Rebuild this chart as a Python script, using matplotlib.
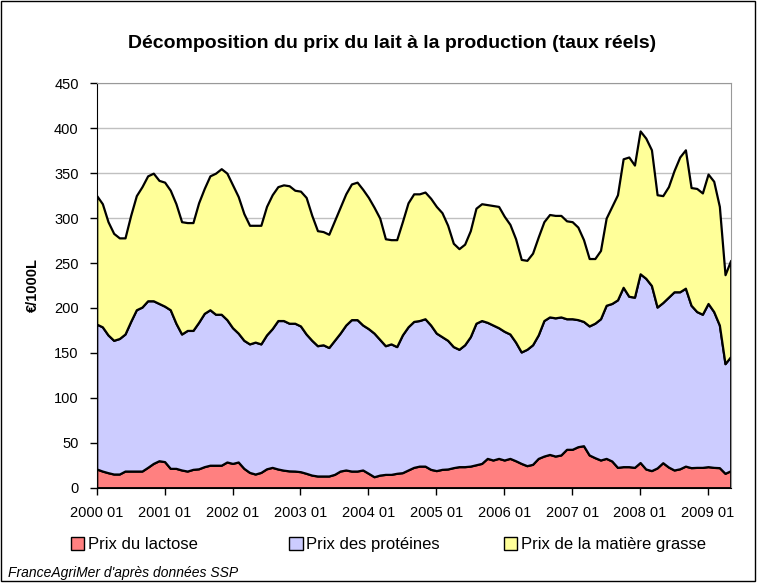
import numpy as np
import matplotlib
matplotlib.use('Agg')
import matplotlib.pyplot as plt
from matplotlib.patches import Rectangle, Patch

plt.rcParams['font.family'] = ['Liberation Sans', 'DejaVu Sans']

# monthly values, 2000 01 -> 2009 05
lactose = [20.8, 18.5, 16.7, 15.2, 15.2, 18.5, 18.5, 18.5, 18.5, 22.6, 27.0, 30.0,
           29.0, 21.5, 21.5, 19.7, 18.5, 20.4, 21.0, 23.4, 25.0, 25.0, 25.0, 28.6,
           27.0, 28.6, 21.5, 17.0, 15.2, 17.0, 21.0, 22.6, 20.8, 19.5, 18.7, 18.5,
           17.8, 16.0, 14.0, 13.0, 13.0, 13.0, 14.8, 18.5, 19.7, 18.5, 18.5, 19.7,
           16.0, 12.2, 14.0, 14.8, 14.8, 16.0, 16.7, 19.7, 22.6, 24.0, 24.0, 20.4,
           19.0, 20.4, 20.8, 22.3, 23.4, 23.4, 24.0, 25.5, 27.0, 32.6, 30.8, 32.6,
           30.8, 32.6, 30.0, 27.0, 24.5, 26.0, 32.6, 35.2, 37.0, 35.2, 36.4, 42.7,
           42.7, 45.6, 46.7, 36.4, 33.4, 30.8, 32.6, 29.7, 22.6, 23.4, 23.4, 22.6,
           28.0, 20.8, 19.0, 22.0, 27.8, 23.0, 19.7, 21.0, 24.0, 22.3, 22.6, 22.6,
           23.4, 22.6, 22.3, 16.0, 18.9]

proteines = [161.2, 160.5, 153.3, 148.8, 150.8, 152.5, 166.5, 179.5, 182.5, 185.4, 181.0, 175.0,
             173.0, 176.5, 161.5, 151.3, 156.5, 154.6, 163.0, 170.6, 173.0, 168.0, 168.0, 158.4,
             151.0, 143.4, 142.5, 143.0, 146.8, 143.0, 149.0, 154.4, 165.2, 166.5, 164.3, 164.5,
             162.2, 155.0, 150.0, 145.0, 146.0, 143.0, 149.2, 153.5, 161.3, 168.5, 168.5, 161.3,
             161.0, 159.8, 151.0, 143.2, 145.2, 141.0, 153.3, 159.3, 162.4, 162.0, 164.0, 160.6,
             153.0, 147.6, 143.2, 134.7, 130.6, 135.6, 144.0, 157.5, 159.0, 151.4, 150.2, 145.4,
             143.2, 138.4, 132.0, 124.0, 129.5, 133.0, 137.4, 150.8, 153.0, 153.8, 153.6, 145.3,
             145.3, 141.4, 138.3, 143.6, 149.6, 157.2, 170.4, 175.3, 186.4, 199.6, 189.6, 189.4,
             210.0, 212.2, 206.0, 179.0, 178.2, 189.0, 198.3, 197.0, 198.0, 180.7, 173.4, 170.4,
             181.6, 173.4, 158.7, 122.0, 127.1]

matiere_grasse = [143, 137, 126, 119, 112, 107, 118, 127, 134, 139, 142, 137,
                  138, 133, 133, 125, 120, 120, 133, 139, 149, 157, 162, 163,
                  159, 152, 141, 132, 130, 132, 143, 149, 149, 151, 153, 148,
                  150, 152, 139, 128, 126, 126, 133, 140, 146, 151, 153, 151,
                  146, 140, 135, 119, 116, 119, 126, 138, 142, 141, 141, 141,
                  141, 138, 128, 115, 112, 112, 118, 128, 130, 131, 133, 135,
                  128, 122, 115, 103, 99, 102, 109, 110, 114, 114, 113, 109,
                  108, 103, 91, 75, 72, 76, 97, 108, 117, 143, 155, 147,
                  159, 156, 151, 125, 119, 123, 135, 150, 154, 131, 137, 135,
                  144, 145, 132, 99, 107]

years = list(range(2000, 2010))
tick_labels = [f'{y} 01' for y in years]

x = np.arange(len(lactose))
colors = ['#FF8080', '#CCCCFF', '#FFFF99']
names = ['Prix du lactose', 'Prix des protéines', 'Prix de la matière grasse']

fig = plt.figure(figsize=(7.59, 5.83), dpi=100)
ax = fig.add_axes([0.1274, 0.1635, 0.8353, 0.6936])

ax.stackplot(x, lactose, proteines, matiere_grasse,
             colors=colors, edgecolor='black', linewidth=1.6)

ax.set_xlim(0, len(x) - 1)
ax.set_ylim(0, 450)
ax.set_yticks(range(0, 451, 50))
ax.set_xticks(np.arange(0, len(x), 12))
ax.set_xticklabels(tick_labels)
ax.yaxis.grid(True, color='#c0c0c0', linewidth=1)
ax.set_axisbelow(True)
ax.tick_params(axis='both', labelsize=10.5, length=5, direction='out', width=1)
ax.tick_params(axis='x', pad=8)
ax.tick_params(axis='y', pad=8)
for side in ['top', 'right']:
    ax.spines[side].set_color('#999999')
for side in ['left', 'bottom']:
    ax.spines[side].set_color('black')

ax.set_ylabel('€/1000L', fontsize=10.5, fontweight='bold', labelpad=10)

fig.text(0.517, 0.926, 'Décomposition du prix du lait à la production (taux réels)',
         ha='center', va='center', fontsize=14, fontweight='bold')

# legend entries placed like the original (fixed column starts)
for name, col, x0 in zip(names, colors, [0.0935, 0.381, 0.664]):
    h = Patch(facecolor=col, edgecolor='black', label=name)
    fig.legend(handles=[h], loc='center left', bbox_to_anchor=(x0, 0.066),
               frameon=False, fontsize=12, handlelength=0.8, handleheight=0.8,
               handletextpad=0.2, borderpad=0, borderaxespad=0)

fig.text(0.011, 0.017, "FranceAgriMer d'après données SSP", fontsize=10,
         style='italic', ha='left', va='center')

fig.patches.append(Rectangle((0.001, 0.004), 0.994, 0.994, transform=fig.transFigure,
                             fill=False, edgecolor='black', linewidth=1))

fig.savefig('out.png', dpi=100)
